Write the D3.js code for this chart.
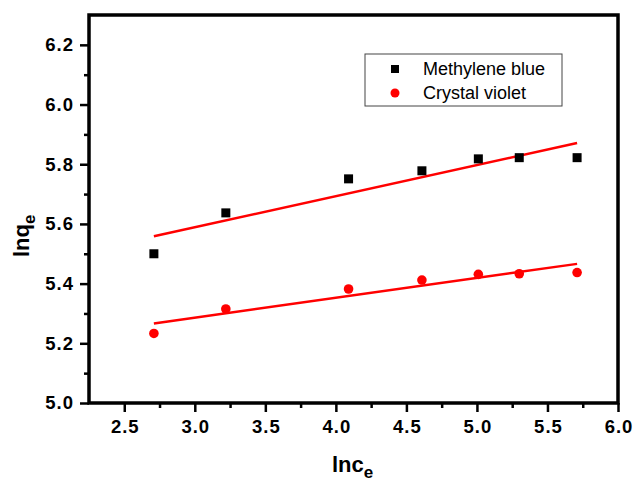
<!DOCTYPE html>
<html>
<head>
<meta charset="utf-8">
<script src="https://cdn.jsdelivr.net/npm/d3@7"></script>
<style>
  html, body { margin: 0; padding: 0; background: #fff; }
  svg { display: block; }
  text { font-family: Arial, "Liberation Sans", sans-serif; }
</style>
</head>
<body>
<svg id="chart" width="636" height="482"></svg>
<script>
// ---- data ----
const lnCe = [2.71, 3.22, 4.09, 4.61, 5.01, 5.30, 5.71];
const methyleneBlue = [5.50, 5.637, 5.751, 5.778, 5.818, 5.822, 5.822];
const crystalViolet = [5.233, 5.315, 5.382, 5.412, 5.431, 5.433, 5.437];
const seriesNames = ["Methylene blue", "Crystal violet"];
const xTicks = [2.5, 3.0, 3.5, 4.0, 4.5, 5.0, 5.5, 6.0];
const xMinorTicks = [2.75, 3.25, 3.75, 4.25, 4.75, 5.25, 5.75];
const yTicks = [5.0, 5.2, 5.4, 5.6, 5.8, 6.0, 6.2];
const yMinorTicks = [5.1, 5.3, 5.5, 5.7, 5.9, 6.1];

// ---- layout ----
const svg = d3.select("#chart");
const L = 89, R = 618, T = 15, B = 403;
const x = d3.scaleLinear().domain([2.25, 6.0]).range([L, R]);
const y = d3.scaleLinear().domain([5.0, 6.3]).range([B, T]);

// linear regression
function fit(xs, ys) {
  const mx = d3.mean(xs), my = d3.mean(ys);
  let sxy = 0, sxx = 0;
  xs.forEach((v, i) => { sxy += (v - mx) * (ys[i] - my); sxx += (v - mx) ** 2; });
  const b = sxy / sxx, a = my - b * mx;
  const x0 = d3.min(xs), x1 = d3.max(xs);
  return [[x0, a + b * x0], [x1, a + b * x1]];
}

// axes
const fmt = d3.format(".1f");
const xAxis = svg.append("g").attr("transform", `translate(0,${B})`)
  .call(d3.axisBottom(x).tickValues(xTicks).tickFormat(fmt).tickSize(9).tickPadding(8));
const xMinor = svg.append("g").attr("transform", `translate(0,${B})`)
  .call(d3.axisBottom(x).tickValues(xMinorTicks).tickFormat("").tickSize(5));
const yAxis = svg.append("g").attr("transform", `translate(${L},0)`)
  .call(d3.axisLeft(y).tickValues(yTicks).tickFormat(fmt).tickSize(9).tickPadding(6));
const yMinor = svg.append("g").attr("transform", `translate(${L},0)`)
  .call(d3.axisLeft(y).tickValues(yMinorTicks).tickFormat("").tickSize(5));

[xAxis, xMinor, yAxis, yMinor].forEach(g => {
  g.select(".domain").remove();
  g.selectAll(".tick line").attr("stroke", "#000").attr("stroke-width", 2.5);
  g.selectAll(".tick text").attr("fill", "#000")
    .style("font-size", "18.5px").style("font-weight", "bold").style("letter-spacing", "1px")
    .style("font-family", "Arial, 'Liberation Sans', sans-serif");
});
xAxis.selectAll(".tick text").attr("dx", "0.5px");

// frame
svg.append("rect").attr("x", L).attr("y", T).attr("width", R - L).attr("height", B - T)
  .attr("fill", "none").attr("stroke", "#000").attr("stroke-width", 3.5);

// fit lines
const line = d3.line().x(d => x(d[0])).y(d => y(d[1]));
[methyleneBlue, crystalViolet].forEach(s => {
  svg.append("path").datum(fit(lnCe, s)).attr("d", line)
    .attr("fill", "none").attr("stroke", "#ff0000").attr("stroke-width", 2.5);
});

// points
const sq = 9;
svg.append("g").selectAll("rect").data(methyleneBlue).join("rect")
  .attr("x", (d, i) => x(lnCe[i]) - sq / 2).attr("y", d => y(d) - sq / 2)
  .attr("width", sq).attr("height", sq).attr("fill", "#000");
svg.append("g").selectAll("circle").data(crystalViolet).join("circle")
  .attr("cx", (d, i) => x(lnCe[i])).attr("cy", d => y(d)).attr("r", 4.8)
  .attr("fill", "#ff0000");

// legend
const lg = svg.append("g");
lg.append("rect").attr("x", 365).attr("y", 54).attr("width", 197).attr("height", 52)
  .attr("fill", "#fff").attr("stroke", "#444").attr("stroke-width", 1);
lg.append("rect").attr("x", 395 - 4).attr("y", 69 - 4).attr("width", 8).attr("height", 8).attr("fill", "#000");
lg.append("circle").attr("cx", 395).attr("cy", 93).attr("r", 4.5).attr("fill", "#ff0000");
lg.append("text").attr("x", 423).attr("y", 75).text(seriesNames[0])
  .style("font-size", "18px").attr("fill", "#000");
lg.append("text").attr("x", 423).attr("y", 99).text(seriesNames[1])
  .style("font-size", "18px").attr("fill", "#000");

// axis titles
const xt = svg.append("text").attr("x", 332).attr("y", 472)
  .style("font-size", "22px").style("font-weight", "bold").attr("fill", "#000");
xt.append("tspan").text("lnc");
xt.append("tspan").attr("dy", 6).style("font-size", "17px").text("e");

const yt = svg.append("text").attr("transform", "translate(29,257) rotate(-90)")
  .attr("x", 0).attr("y", 0)
  .style("font-size", "22px").style("font-weight", "bold").attr("fill", "#000");
yt.append("tspan").text("lnq");
yt.append("tspan").attr("dy", 6).style("font-size", "17px").text("e");
</script>
</body>
</html>
